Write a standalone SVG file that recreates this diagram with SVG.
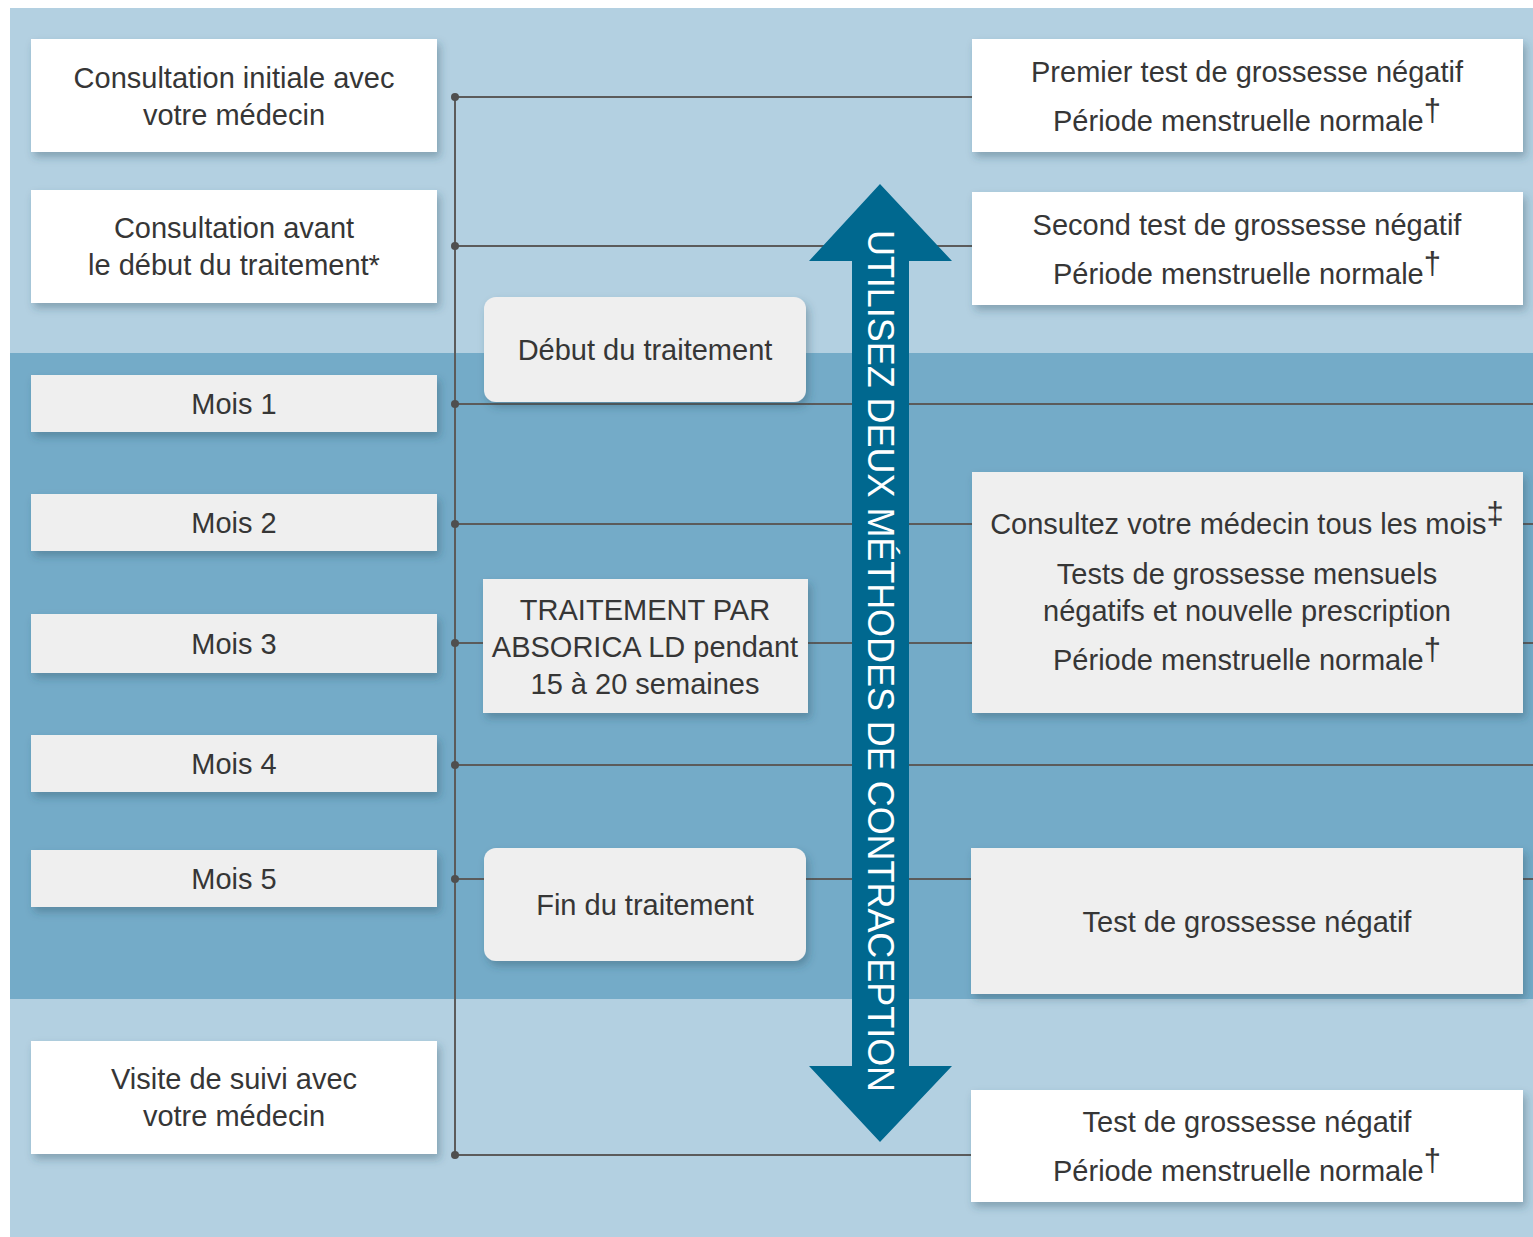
<svg xmlns="http://www.w3.org/2000/svg" width="1533" height="1237" viewBox="0 0 1533 1237">
<defs>
<filter id="sh" x="-10%" y="-20%" width="125%" height="150%">
<feDropShadow dx="3" dy="5" stdDeviation="4" flood-color="#2b4a5c" flood-opacity="0.35"/>
</filter>
<style>
.w{fill:#ffffff;filter:url(#sh)}
.g{fill:#efefef;filter:url(#sh)}
.t{font-family:"Liberation Sans",Arial,Helvetica,sans-serif;font-size:29px;fill:#363636;text-anchor:middle}
.sup{font-size:31px}
.ln{stroke:#5b5b5b;stroke-width:2;fill:none}
.dot{fill:#4f4f4f}
</style>
</defs>
<rect x="0" y="0" width="1533" height="1237" fill="#ffffff"/>
<rect x="10" y="8" width="1523" height="1229" fill="#b3d0e1"/>
<rect x="10" y="353" width="1523" height="646" fill="#74abc8"/>

<g id="connectors">
<line class="ln" x1="455" y1="97" x2="455" y2="1155"/>
<line class="ln" x1="455" y1="97" x2="972" y2="97"/>
<line class="ln" x1="455" y1="246" x2="972" y2="246"/>
<line class="ln" x1="455" y1="404" x2="1533" y2="404"/>
<line class="ln" x1="455" y1="524" x2="1533" y2="524"/>
<line class="ln" x1="455" y1="643" x2="1533" y2="643"/>
<line class="ln" x1="455" y1="765" x2="1533" y2="765"/>
<line class="ln" x1="455" y1="879" x2="1533" y2="879"/>
<line class="ln" x1="455" y1="1155" x2="972" y2="1155"/>
<circle class="dot" cx="455" cy="97" r="4"/>
<circle class="dot" cx="455" cy="246" r="4"/>
<circle class="dot" cx="455" cy="404" r="4"/>
<circle class="dot" cx="455" cy="524" r="4"/>
<circle class="dot" cx="455" cy="643" r="4"/>
<circle class="dot" cx="455" cy="765" r="4"/>
<circle class="dot" cx="455" cy="879" r="4"/>
<circle class="dot" cx="455" cy="1155" r="4"/>
</g>

<g id="n-consult-init">
<rect class="w" x="31" y="39" width="406" height="113"/>
<text class="t" x="234" y="88">Consultation initiale avec</text>
<text class="t" x="234" y="125">votre médecin</text>
</g>
<g id="n-consult-avant">
<rect class="w" x="31" y="190" width="406" height="113"/>
<text class="t" x="234" y="238">Consultation avant</text>
<text class="t" x="234" y="275">le début du traitement*</text>
</g>
<g id="n-mois1">
<rect class="g" x="31" y="375" width="406" height="57"/>
<text class="t" x="234" y="414">Mois 1</text>
</g>
<g id="n-mois2">
<rect class="g" x="31" y="494" width="406" height="57"/>
<text class="t" x="234" y="533">Mois 2</text>
</g>
<g id="n-mois3">
<rect class="g" x="31" y="614" width="406" height="59"/>
<text class="t" x="234" y="654">Mois 3</text>
</g>
<g id="n-mois4">
<rect class="g" x="31" y="735" width="406" height="57"/>
<text class="t" x="234" y="774">Mois 4</text>
</g>
<g id="n-mois5">
<rect class="g" x="31" y="850" width="406" height="57"/>
<text class="t" x="234" y="889">Mois 5</text>
</g>
<g id="n-visite">
<rect class="w" x="31" y="1041" width="406" height="113"/>
<text class="t" x="234" y="1089">Visite de suivi avec</text>
<text class="t" x="234" y="1126">votre médecin</text>
</g>

<g id="n-debut">
<rect class="g" x="484" y="297" width="322" height="105" rx="12"/>
<text class="t" x="645" y="360">Début du traitement</text>
</g>
<g id="n-traitement">
<rect class="g" x="483" y="579" width="325" height="134"/>
<text class="t" x="645" y="620">TRAITEMENT PAR</text>
<text class="t" x="645" y="657">ABSORICA LD pendant</text>
<text class="t" x="645" y="694">15 à 20 semaines</text>
</g>
<g id="n-fin">
<rect class="g" x="484" y="848" width="322" height="113" rx="12"/>
<text class="t" x="645" y="915">Fin du traitement</text>
</g>

<g id="n-arrow">
<polygon fill="#00688f" points="880,184 952,261 909,261 909,1066 952,1066 880,1142 809,1066 852,1066 852,261 809,261"/>
<text transform="translate(868,230) rotate(90)" x="0" y="0" font-family="Liberation Sans,Arial,Helvetica,sans-serif" font-size="36" fill="#ffffff" textLength="862" lengthAdjust="spacingAndGlyphs">UTILISEZ DEUX MÉTHODES DE CONTRACEPTION</text>
</g>

<g id="n-premier">
<rect class="w" x="972" y="39" width="551" height="113"/>
<text class="t" x="1247" y="82">Premier test de grossesse négatif</text>
<text class="t" x="1247" y="131">Période menstruelle normale<tspan class="sup" dy="-10">†</tspan></text>
</g>
<g id="n-second">
<rect class="w" x="972" y="192" width="551" height="113"/>
<text class="t" x="1247" y="235">Second test de grossesse négatif</text>
<text class="t" x="1247" y="284">Période menstruelle normale<tspan class="sup" dy="-10">†</tspan></text>
</g>
<g id="n-mensuel">
<rect class="g" x="972" y="472" width="551" height="241"/>
<text class="t" x="1247" y="534">Consultez votre médecin tous les mois<tspan class="sup" dy="-10">‡</tspan></text>
<text class="t" x="1247" y="584">Tests de grossesse mensuels</text>
<text class="t" x="1247" y="621">négatifs et nouvelle prescription</text>
<text class="t" x="1247" y="670">Période menstruelle normale<tspan class="sup" dy="-10">†</tspan></text>
</g>
<g id="n-test-fin">
<rect class="g" x="971" y="848" width="552" height="146"/>
<text class="t" x="1247" y="932">Test de grossesse négatif</text>
</g>
<g id="n-test-suivi">
<rect class="w" x="971" y="1090" width="552" height="112"/>
<text class="t" x="1247" y="1132">Test de grossesse négatif</text>
<text class="t" x="1247" y="1181">Période menstruelle normale<tspan class="sup" dy="-10">†</tspan></text>
</g>
</svg>
